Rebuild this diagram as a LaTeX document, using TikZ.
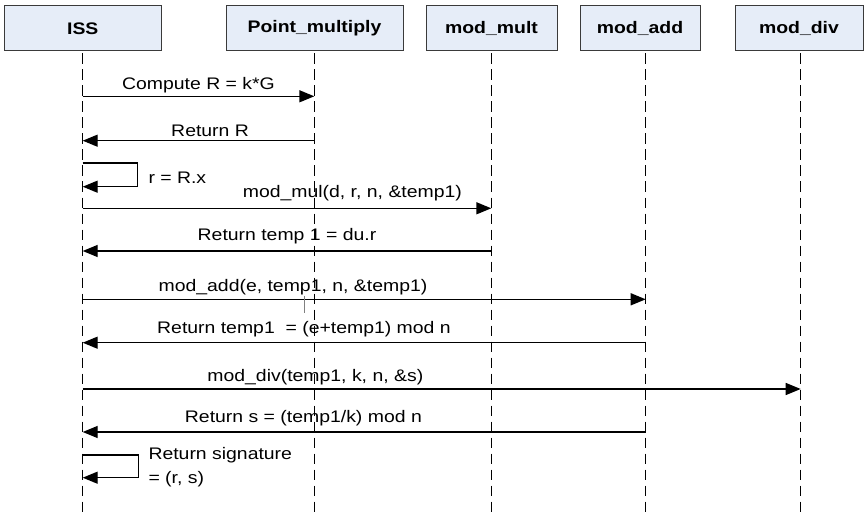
\documentclass[tikz,border=0pt]{standalone}
\usepackage{fontspec}
\setmainfont{Liberation Sans}[FakeStretch=1.16]
\usetikzlibrary{arrows.meta}
\definecolor{headfill}{HTML}{E6EDF8}
\definecolor{headline}{HTML}{3A3A3A}
\begin{document}
\begin{tikzpicture}[x=1bp,y=-1bp,
  font=\fontsize{16.8}{19}\selectfont,
  actor/.style={draw=headline, fill=headfill, line width=1bp,
    minimum height=45bp, inner sep=0pt,
    font=\fontsize{16.8}{19}\selectfont\bfseries},
  life/.style={line width=1.5bp, dash pattern=on 10.5bp off 5.5bp, dash phase=14bp},
  msg/.style={line width=1.4bp, -{Triangle[length=15bp,width=12bp]}},
  lbl/.style={anchor=base, inner sep=0pt},
  note/.style={anchor=base west, inner sep=0pt}
]
\useasboundingbox (0,0) rectangle (864,515);

% participants
\node[actor, minimum width=156.5bp] (iss)  at (82.75,28.5) {ISS};
\node[actor, minimum width=177bp]   (pm)   at (314.5,28.5) {Point\_multiply};
\node[actor, minimum width=131bp]   (mult) at (491.5,28.5) {mod\_mult};
\node[actor, minimum width=120bp]   (add)  at (640,28.5)   {mod\_add};
\node[actor, minimum width=128bp]   (div)  at (799,28.5)   {mod\_div};

% lifeline positions
\coordinate (Liss)  at (82.7,0);
\coordinate (Lpm)   at (314.3,0);
\coordinate (Lmult) at (491.3,0);
\coordinate (Ladd)  at (645.7,0);
\coordinate (Ldiv)  at (800.7,0);

\draw[life] (iss.south -| Liss)   -- (Liss |- 0,515);
\draw[life] (pm.south -| Lpm)     -- (Lpm |- 0,515);
\draw[life] (mult.south -| Lmult) -- (Lmult |- 0,515);
\draw[life] (add.south -| Ladd)   -- (Ladd |- 0,515);
\draw[life] (div.south -| Ldiv)   -- (Ldiv |- 0,515);

% messages
\draw[msg] (Liss |- 0,96.3) -- node[lbl, pos=0.5, yshift=7bp] (t1) {Compute R = k*G} (Lpm |- 0,96.3);
\draw[msg] (Lpm |- 0,140.7) -- node[lbl, pos=0.45, yshift=4bp] (t2) {Return R} (Liss |- 0,140.7);

\draw[msg] (Liss |- 0,163) -| (137.7,186.7) -- (Liss |- 0,186.7);
\node[note] (t3) at (148.3,184) {r = R.x};

\draw[msg] (Liss |- 0,208.3) -- node[lbl, pos=0.66, yshift=11bp] (t4) {mod\_mul(d, r, n, \&temp1)} (Lmult |- 0,208.3);
\draw[msg] (Lmult |- 0,251) -- node[lbl, pos=0.5, yshift=10.5bp] (t5) {Return temp 1 = du.r} (Liss |- 0,251);

\draw[msg] (Liss |- 0,299.3) -- node[lbl, pos=0.3735, yshift=7.6bp] (t6) {mod\_add(e, temp1, n, \&temp1)} (Ladd |- 0,299.3);
\draw[gray, line width=1bp] (304.3,296) coordinate (g1) -- (304.3,313) coordinate (g2);
\draw[msg] (Ladd |- 0,342.7) -- node[lbl, pos=0.607, yshift=8.7bp] (t7) {Return temp1~ = (e+temp1) mod n} (Liss |- 0,342.7);

\draw[msg] (Liss |- 0,389) -- node[lbl, pos=0.324, yshift=7.3bp] (t8) {mod\_div(temp1, k, n, \&s)} (Ldiv |- 0,389);
\draw[msg] (Ladd |- 0,432) -- node[lbl, pos=0.608, yshift=9.7bp] (t9) {Return s = (temp1/k) mod n} (Liss |- 0,432);

\draw[msg] (Liss |- 0,455) -| (138.7,477.7) -- (Liss |- 0,477.7);
\node[anchor=west, align=left, inner sep=0pt, font=\fontsize{16.8}{24}\selectfont] (t10) at (148.3,467) {Return signature\\= (r, s)};
\end{tikzpicture}
\end{document}
